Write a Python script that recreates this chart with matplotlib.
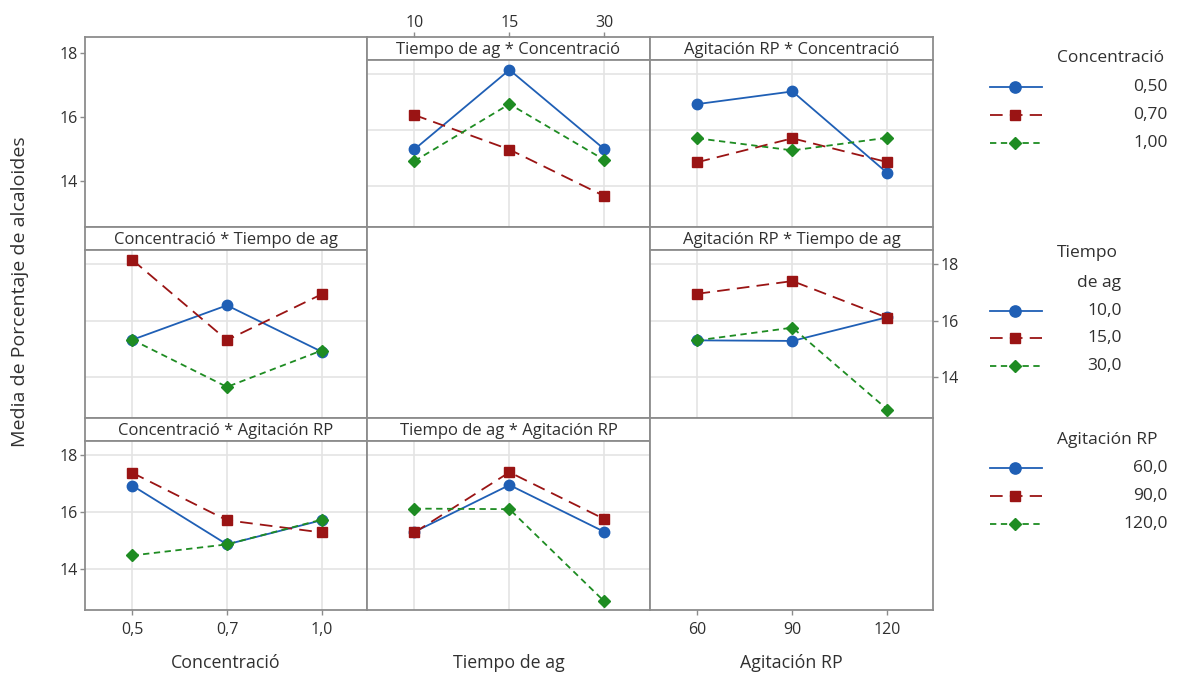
import matplotlib
matplotlib.use("Agg")
import matplotlib.pyplot as plt
from matplotlib.lines import Line2D

plt.rcParams['font.family'] = ['Open Sans', 'DejaVu Sans']

# ---------------- data ----------------
factor_names = ["Concentració", "Tiempo de ag", "Agitación RP"]
conc_ticks = ["0,5", "0,7", "1,0"]
time_ticks = ["10", "15", "30"]
agit_ticks = ["60", "90", "120"]
conc_legend = ["0,50", "0,70", "1,00"]
time_legend = ["10,0", "15,0", "30,0"]
agit_legend = ["60,0", "90,0", "120,0"]

# two-way means, rows = levels of first factor, cols = levels of second factor
conc_time = [[15.32, 18.15, 15.32],
             [16.54, 15.31, 13.65],
             [14.90, 16.93, 14.94]]
conc_agit = [[16.93, 17.38, 14.47],
             [14.86, 15.71, 14.86],
             [15.71, 15.28, 15.73]]
time_agit = [[15.30, 15.28, 16.12],
             [16.95, 17.40, 16.10],
             [15.30, 15.75, 12.85]]

tables = {(0, 1): conc_time, (0, 2): conc_agit, (1, 2): time_agit}


def mean(a, b, i, j):
    if (a, b) in tables:
        return tables[(a, b)][i][j]
    return tables[(b, a)][j][i]


# ---------------- style ----------------
W, H = 1178, 677
fig = plt.figure(figsize=(W / 100, H / 100), dpi=100)
FRAME = '#8c8c8c'
TXT = '#303030'
GRID = '#e4e4e4'
BLUE, RED, GREEN = '#1f5fb5', '#9a1414', '#1e8c22'
styles = [
    dict(color=BLUE, ls='-', lw=1.3, marker='o', ms=7.5),
    dict(color=RED, ls=(0, (7, 4)), lw=1.3, marker='s', ms=6.8),
    dict(color=GREEN, ls=(0, (3.5, 2.5)), lw=1.3, marker='D', ms=6.0),
]
YLIM = (12.55, 18.5)
XLIM = (-0.5, 2.48)
TICK_FS = 11.5
STRIP_FS = 12
LABEL_FS = 12.8
LEG_FS = 12.5

col_edges = [85, 367, 650, 933]
row_edges = [37, 227, 418, 610]
STRIP = 23


def add_ax(x0, y0, x1, y1):
    ax = fig.add_axes([x0 / W, 1 - y1 / H, (x1 - x0) / W, (y1 - y0) / H])
    for s in ax.spines.values():
        s.set_color(FRAME)
        s.set_linewidth(1.3)
    ax.tick_params(length=3.5, width=1, color=FRAME, labelcolor=TXT,
                   labelsize=TICK_FS, pad=2)
    ax.set_xticks([])
    ax.set_yticks([])
    return ax


xticklabels = [conc_ticks, time_ticks, agit_ticks]

for r in range(3):
    for c in range(3):
        x0, x1 = col_edges[c], col_edges[c + 1]
        y0, y1 = row_edges[r], row_edges[r + 1]
        if r == c:
            ax = add_ax(x0, y0, x1, y1)
            ax.set_xlim(XLIM)
            ax.set_ylim(YLIM)
            if c == 0:
                ax.set_yticks([14, 16, 18])
            if c == 2:
                ax.set_xticks([0, 1, 2])
                ax.set_xticklabels(xticklabels[c])
                ax.tick_params(axis='x', pad=5)
            continue
        # strip
        sax = add_ax(x0, y0, x1, y0 + STRIP)
        sax.set_xlim(XLIM)
        sax.text(0.5, 0.45, f"{factor_names[c]} * {factor_names[r]}",
                 transform=sax.transAxes, ha='center', va='center',
                 fontsize=STRIP_FS, color=TXT)
        if r == 0 and c == 1:
            sax.set_xticks([0, 1, 2])
            sax.set_xticklabels(xticklabels[c])
            sax.xaxis.tick_top()
            sax.tick_params(axis='x', top=True, bottom=False, pad=1)
        # data
        ax = add_ax(x0, y0 + STRIP, x1, y1)
        ax.set_xlim(XLIM)
        ax.set_ylim(YLIM)
        for g in [0, 1, 2]:
            ax.axvline(g, color=GRID, lw=1.2, zorder=0)
        for g in [14, 16, 18]:
            ax.axhline(g, color=GRID, lw=1.2, zorder=0)
        for s in range(3):
            ys = [mean(c, r, i, s) for i in range(3)]
            st = styles[s]
            ax.plot([0, 1, 2], ys, color=st['color'], ls=st['ls'], lw=st['lw'],
                    marker=st['marker'], ms=st['ms'], mec=st['color'],
                    mfc=st['color'], zorder=3)
        if c == 0 and r == 2:
            ax.set_yticks([14, 16, 18])
            ax.set_xticks([0, 1, 2])
            ax.set_xticklabels(xticklabels[c])
            ax.tick_params(axis='x', pad=5)
        if c == 2 and r == 1:
            ax.set_yticks([14, 16, 18])
            ax.yaxis.tick_right()
            ax.tick_params(axis='y', right=True, left=False)

# axis labels
for c in range(3):
    xc = (col_edges[c] + col_edges[c + 1]) / 2 / W
    fig.text(xc, 1 - 663 / H, factor_names[c], ha='center', va='center',
             fontsize=LABEL_FS, color=TXT)
fig.text(20 / W, 1 - 292 / H, "Media de Porcentaje de alcaloides", rotation=90,
         ha='center', va='center', fontsize=14, color=TXT)

# legends
lax = fig.add_axes([0, 0, 1, 1], facecolor='none')
lax.set_xlim(0, W)
lax.set_ylim(H, 0)
lax.axis('off')

groups = [
    (["Concentració"], [58], conc_legend, [87, 115, 143], 1168),
    (["Tiempo", "de ag"], [253, 283], time_legend, [311, 338, 366], 1122),
    (["Agitación RP"], [440], agit_legend, [468, 496, 524], 1168),
]
for titles, tys, labels, eys, xr in groups:
    for k, (t, ty) in enumerate(zip(titles, tys)):
        if k == 0:
            lax.text(1057, ty, t, ha='left', va='center', fontsize=LEG_FS, color=TXT)
        else:
            lax.text(1121, ty, t, ha='right', va='center', fontsize=LEG_FS, color=TXT)
    for s, (lab, ey) in enumerate(zip(labels, eys)):
        st = styles[s]
        lax.add_line(Line2D([990, 1042], [ey, ey], color=st['color'], ls=st['ls'],
                            lw=st['lw']))
        lax.add_line(Line2D([1015], [ey], color=st['color'], marker=st['marker'],
                            ms=st['ms'] + 0.6, mec=st['color'], mfc=st['color'], ls='none'))
        lax.text(xr, ey, lab, ha='right', va='center', fontsize=LEG_FS, color=TXT)

fig.savefig("out.png", dpi=100, facecolor='white')
